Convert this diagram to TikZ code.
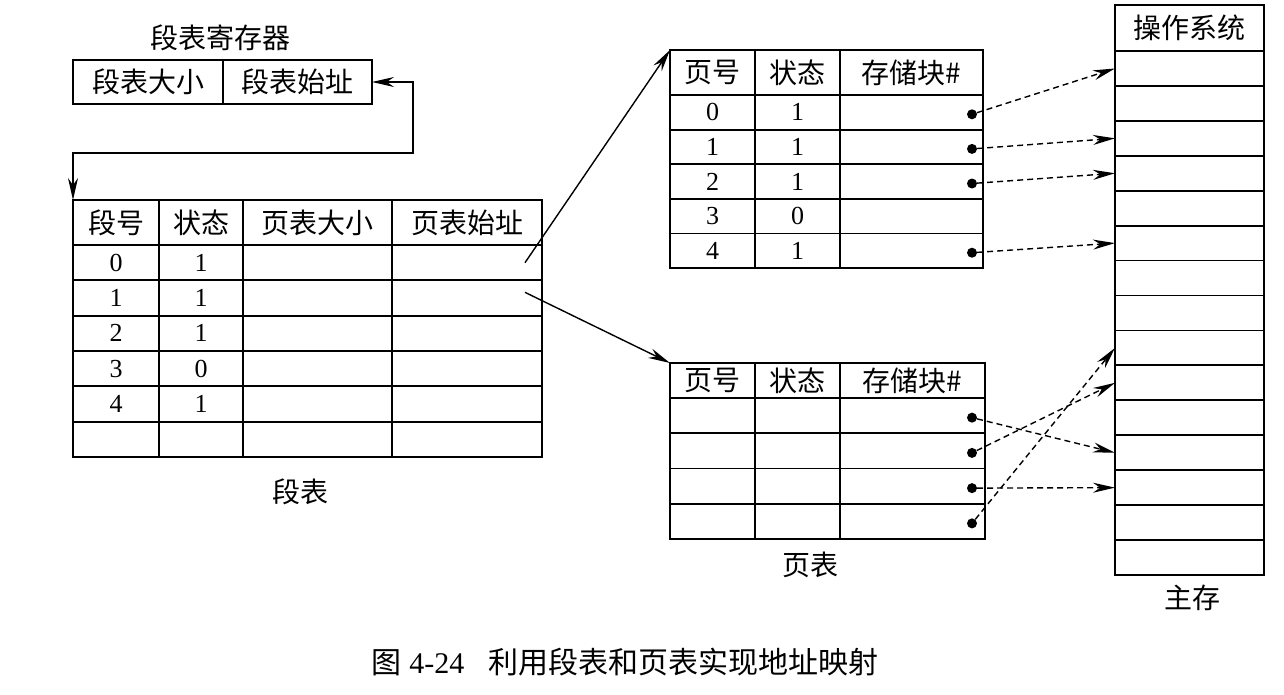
\documentclass[tikz,border=0pt]{standalone}
\usepackage{fontspec}
\setmainfont{Liberation Serif}
\newfontfamily\cjk{Noto Sans CJK SC}
\usetikzlibrary{arrows.meta,calc,positioning}

\begin{document}
\begin{tikzpicture}[x=1pt,y=-1pt,>={Stealth[length=22pt,width=10pt]},
    cell/.style={draw,line width=1.8pt,inner sep=0pt,outer sep=0pt,anchor=north west,
      font=\fontsize{26}{30}\selectfont},
    lbl/.style={inner sep=0pt,font=\fontsize{28}{32}\selectfont\cjk},
    dot/.style={circle,fill,inner sep=0pt,minimum size=10pt},
    link/.style={->,line width=1.4pt},
    ptr/.style={->,line width=1.4pt,dash pattern=on 6pt off 4pt}]
  \path[use as bounding box,fill=white] (0,0) rectangle (1284,694);

  % segment table register
  \node[lbl] (regtitle) at (220,38) {段表寄存器};
  \node[cell,minimum width=150pt,minimum height=44pt] (reg-1) at (73,60) {\cjk\fontsize{28}{32}\selectfont 段表大小};
  \node[cell,minimum width=149pt,minimum height=44pt] (reg-2) at (223,60) {\cjk\fontsize{28}{32}\selectfont 段表始址};

  % segment table
  \foreach \c/\x/\w/\t in {1/73/86/段号,2/159/84/状态,3/243/149/页表大小,4/392/150/页表始址}
    \node[cell,minimum width=\w pt,minimum height=45pt] (seg-0-\c) at (\x,200) {\cjk\fontsize{28}{32}\selectfont\t};
  \foreach \r/\n/\s in {1/0/1,2/1/1,3/2/1,4/3/0,5/4/1,6//} {
    \foreach \c/\x/\w/\t in {1/73/86/\n,2/159/84/\s,3/243/149/,4/392/150/}
      \node[cell,minimum width=\w pt,minimum height=35.33pt] (seg-\r-\c) at (\x,{245+(\r-1)*35.33}) {\t};
  }
  \node[lbl] (segname) at (300,492) {段表};

  % register -> segment table
  \coordinate (bend) at (413,153);
  \draw[<->,line width=1.4pt] (reg-2.east) -| (bend) -| (seg-0-1.north west);

  % page table A
  \foreach \c/\x/\w/\t in {1/670/85/页号,2/755/85/状态,3/840/143/存储块\#}
    \node[cell,minimum width=\w pt,minimum height=45pt] (pa-0-\c) at (\x,50) {\cjk\fontsize{28}{32}\selectfont\t};
  \foreach \r/\n/\s in {1/0/1,2/1/1,3/2/1,4/3/0,5/4/1} {
    \foreach \c/\x/\w/\t in {1/670/85/\n,2/755/85/\s,3/840/143/}
      \node[cell,minimum width=\w pt,minimum height=34.6pt] (pa-\r-\c) at (\x,{95+(\r-1)*34.6}) {\t};
  }
  \foreach \r in {1,2,3,5}
    \node[dot] (da-\r) at ($(pa-\r-3.east)+(-11,2)$) {};

  % page table B
  \foreach \c/\x/\w/\t in {1/670/85/页号,2/755/85/状态,3/840/145/存储块\#}
    \node[cell,minimum width=\w pt,minimum height=35pt] (pb-0-\c) at (\x,363) {\cjk\fontsize{28}{32}\selectfont\t};
  \foreach \r in {1,...,4} {
    \foreach \c/\x/\w in {1/670/85,2/755/85,3/840/145}
      \node[cell,minimum width=\w pt,minimum height=35.25pt] (pb-\r-\c) at (\x,{398+(\r-1)*35.25}) {};
    \node[dot] (db-\r) at ($(pb-\r-3.east)+(-13,2)$) {};
  }
  \node[lbl] (pbname) at (810,565) {页表};

  % main memory
  \node[cell,minimum width=149pt,minimum height=46pt] (mem-0) at (1115,5) {\cjk\fontsize{28}{32}\selectfont 操作系统};
  \foreach \i in {1,...,15}
    \node[cell,minimum width=149pt,minimum height=34.93pt] (mem-\i) at (1115,{51+(\i-1)*34.93}) {};
  \node[lbl] (memname) at (1192,598) {主存};

  % segment table -> page tables
  \coordinate (sa) at ($(seg-1-4.east)+(-17,0)$);
  \coordinate (sb) at ($(seg-2-4.north east)+(-17,12)$);
  \draw[link] (sa) -- (pa-0-1.north west);
  \draw[link] (sb) -- (pb-0-1.north west);

  % page tables -> frames
  \foreach \r/\m in {1/1,2/3,3/4,5/6}
    \draw[ptr] (da-\r) -- (mem-\m.west);
  \foreach \r/\m in {1/12,2/10,3/13,4/9}
    \draw[ptr] (db-\r) -- (mem-\m.west);

  % caption
  \node[inner sep=0pt,font=\fontsize{30}{34}\selectfont] (caption) at (625,662)
    {{\cjk 图} 4-24\hspace{24pt}{\cjk 利用段表和页表实现地址映射}};
\end{tikzpicture}
\end{document}
